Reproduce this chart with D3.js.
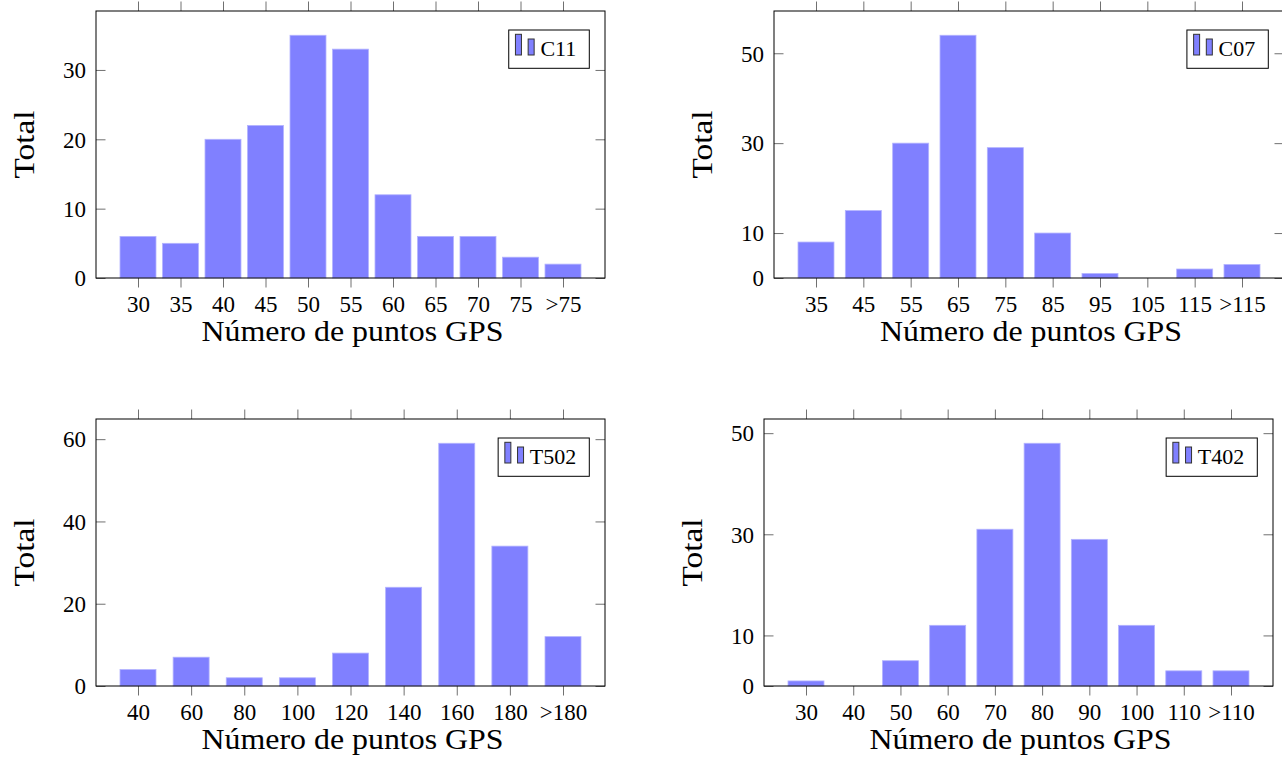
<!DOCTYPE html>
<html>
<head>
<meta charset="utf-8">
<script src="https://cdn.jsdelivr.net/npm/d3@7"></script>
<style>
  html, body { margin: 0; padding: 0; background: #fff; }
  svg { display: block; }
  text { font-family: "Liberation Serif", serif; fill: #000; }
</style>
</head>
<body>
<svg id="chart" width="1282" height="757"></svg>
<script>
// ---- data ----
const categoriesC11 = ["30", "35", "40", "45", "50", "55", "60", "65", "70", "75", ">75"];
const valuesC11 = [6, 5, 20, 22, 35, 33, 12, 6, 6, 3, 2];
const yTicksC11 = [0, 10, 20, 30];

const categoriesC07 = ["35", "45", "55", "65", "75", "85", "95", "105", "115", ">115"];
const valuesC07 = [8, 15, 30, 54, 29, 10, 1, 0, 2, 3];
const yTicksC07 = [0, 10, 30, 50];

const categoriesT502 = ["40", "60", "80", "100", "120", "140", "160", "180", ">180"];
const valuesT502 = [4, 7, 2, 2, 8, 24, 59, 34, 12];
const yTicksT502 = [0, 20, 40, 60];

const categoriesT402 = ["30", "40", "50", "60", "70", "80", "90", "100", "110", ">110"];
const valuesT402 = [1, 0, 5, 12, 31, 48, 29, 12, 3, 3];
const yTicksT402 = [0, 10, 30, 50];

const xTitle = "Número de puntos GPS";
const yTitle = "Total";

// ---- layout (positions / styles) ----
const panels = [
  { name: "C11",  cats: categoriesC11,  vals: valuesC11,  ticks: yTicksC11,  box: [96, 11, 605, 278] },
  { name: "C07",  cats: categoriesC07,  vals: valuesC07,  ticks: yTicksC07,  box: [774, 11, 1284, 278] },
  { name: "T502", cats: categoriesT502, vals: valuesT502, ticks: yTicksT502, box: [96, 419, 605, 686] },
  { name: "T402", cats: categoriesT402, vals: valuesT402, ticks: yTicksT402, box: [764, 419, 1273, 686] }
];

const BAR_W = 36;
const X_PAD = 42;
const FILL = "#8080ff";
const BAR_EDGE = "#b3b3ff";
const TICK_COLOR = "#707070";
const TICK_LEN = 9.5;
const TICK_FONT = 23;

const svg = d3.select("#chart");

panels.forEach(p => {
  const [x0, y0, x1, y1] = p.box;
  const g = svg.append("g");

  const x = d3.scalePoint().domain(p.cats).range([x0 + X_PAD, x1 - X_PAD]);
  const y = d3.scaleLinear().domain([0, d3.max(p.vals) * 1.1]).range([y1, y0]);

  // bars
  g.append("g").selectAll("rect")
    .data(p.cats.map((c, i) => ({ c, v: p.vals[i] })))
    .join("rect")
    .attr("x", d => x(d.c) - BAR_W / 2)
    .attr("width", BAR_W)
    .attr("y", d => y(d.v))
    .attr("height", d => y(0) - y(d.v))
    .attr("fill", FILL)
    .attr("stroke", BAR_EDGE)
    .attr("stroke-width", 0.8);

  // bottom axis (outward ticks, labels)
  const ax = g.append("g").attr("transform", `translate(0,${y1})`)
    .call(d3.axisBottom(x).tickSize(TICK_LEN).tickPadding(4));
  ax.select(".domain").remove();
  ax.selectAll(".tick line").attr("stroke", TICK_COLOR);
  ax.selectAll(".tick text").attr("y", 34).attr("dy", null)
    .attr("font-size", TICK_FONT).attr("font-family", "Liberation Serif, serif");

  // top axis (outward ticks, no labels)
  const axt = g.append("g").attr("transform", `translate(0,${y0})`)
    .call(d3.axisTop(x).tickSize(TICK_LEN).tickFormat(""));
  axt.select(".domain").remove();
  axt.selectAll(".tick line").attr("stroke", TICK_COLOR);

  // left axis (inward ticks, labels)
  const ay = g.append("g").attr("transform", `translate(${x0},0)`)
    .call(d3.axisLeft(y).tickValues(p.ticks).tickSizeInner(-TICK_LEN).tickSizeOuter(0).tickPadding(10));
  ay.select(".domain").remove();
  ay.selectAll(".tick line").attr("stroke", TICK_COLOR);
  ay.selectAll(".tick text").attr("x", -10).attr("dy", "0.34em")
    .attr("font-size", TICK_FONT).attr("font-family", "Liberation Serif, serif");

  // right axis (inward ticks, no labels)
  const ayr = g.append("g").attr("transform", `translate(${x1},0)`)
    .call(d3.axisRight(y).tickValues(p.ticks).tickSizeInner(-TICK_LEN).tickSizeOuter(0).tickFormat(""));
  ayr.select(".domain").remove();
  ayr.selectAll(".tick line").attr("stroke", TICK_COLOR);

  // frame
  g.append("rect")
    .attr("x", x0).attr("y", y0)
    .attr("width", x1 - x0).attr("height", y1 - y0)
    .attr("fill", "none").attr("stroke", "#000").attr("stroke-width", 1);

  // x title
  g.append("text")
    .attr("x", (x0 + x1) / 2 + 2)
    .attr("y", y1 + 63)
    .attr("text-anchor", "middle")
    .attr("font-size", 29)
    .attr("textLength", 302)
    .attr("lengthAdjust", "spacingAndGlyphs")
    .text(xTitle);

  // y title
  const cy = (y0 + y1) / 2;
  const tx = x0 - 62.5;
  g.append("text")
    .attr("transform", `translate(${tx},${cy}) rotate(-90)`)
    .attr("text-anchor", "middle")
    .attr("font-size", 29)
    .attr("textLength", 68)
    .attr("lengthAdjust", "spacingAndGlyphs")
    .text(yTitle);

  // legend
  const lg = g.append("g");
  const lt = lg.append("text")
    .attr("font-size", 22)
    .text(p.name);
  const tw = lt.node().getComputedTextLength();
  const lw = tw + 44.7;
  const lh = 38.3;
  const lx = x1 - 15.7 - lw;
  const ly = y0 + 19;
  lg.insert("rect", "text")
    .attr("x", lx).attr("y", ly).attr("width", lw).attr("height", lh)
    .attr("fill", "#fff").attr("stroke", "#000").attr("stroke-width", 1);
  lg.append("rect")
    .attr("x", lx + 6.7).attr("y", ly + 4.3).attr("width", 6).attr("height", 20.7)
    .attr("fill", FILL).attr("stroke", "#333").attr("stroke-width", 1);
  lg.append("rect")
    .attr("x", lx + 19.4).attr("y", ly + 9).attr("width", 6).attr("height", 16)
    .attr("fill", FILL).attr("stroke", "#333").attr("stroke-width", 1);
  lt.attr("x", lx + 31.7).attr("y", ly + 25.5);
});
</script>
</body>
</html>
